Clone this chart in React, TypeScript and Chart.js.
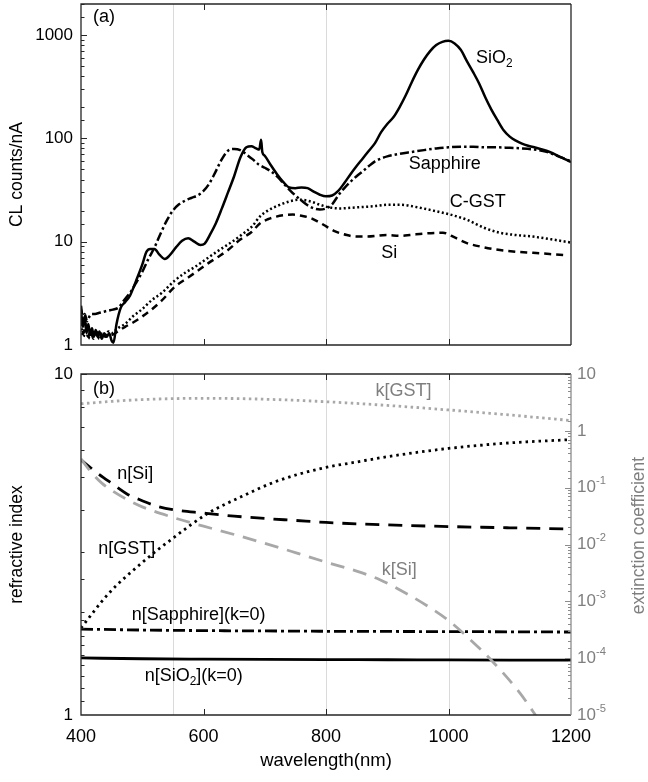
import { useEffect, useRef } from "react";
import { Chart, registerables } from "chart.js";

Chart.register(...registerables);

const FONT = "'Liberation Sans', Arial, Helvetica, sans-serif";
const GREY_TEXT = "#7f7f7f";
const GREY_LINE = "#a8a8a8";

// ---------- (a) CL spectra ----------
const wlSiO2 = [400,403,406,409,412,415,418,421,424,427,430,434,438,442,446,450,453,458,465,472,480,490,500,507,513,520,528,537,545,555,565,575,585,595,602,610,620,630,640,650,660,670,678,686,691,694,696,700,710,720,730,740,750,760,770,780,790,800,810,820,830,840,850,860,870,880,890,900,910,920,930,940,950,960,970,980,990,1000,1010,1020,1030,1040,1050,1060,1070,1080,1090,1100,1110,1120,1130,1140,1150,1160,1170,1180,1190,1200];
const clSiO2 = [2.2,1.5,1.9,1.3,1.6,1.25,1.45,1.2,1.4,1.2,1.35,1.15,1.3,1.2,1.3,1.1,1.05,1.6,2.3,2.6,3.0,4.2,6.0,8.0,8.5,8.5,7.5,6.8,7.4,8.8,10.2,10.8,10.0,9.3,9.6,11.5,15,21,30,43,65,82,84,80,78,97,74,68,55,45,38,33.5,33,33.5,33,30.5,28.5,27.5,28,31,37,45,54,64,76,90,115,138,160,200,260,350,460,580,700,800,860,880,830,720,560,440,340,250,190,150,120,104,95,89,85,82,79,76,72,67,63,59];

const wlSapphire = [400,403,406,410,414,418,423,430,437,444,452,461,470,480,490,500,510,520,530,540,550,560,570,580,590,600,610,620,630,640,650,660,670,680,690,700,710,720,730,740,750,760,770,780,790,800,810,820,830,840,850,860,870,880,890,900,920,940,960,980,1000,1020,1040,1060,1080,1100,1120,1140,1160,1180,1200];
const clSapphire = [2.4,1.8,2.0,1.7,1.9,2.0,2.0,2.05,2.1,2.15,2.2,2.3,2.7,3.2,4.0,5.1,6.8,8.8,12,16,20,23,25,26.5,28,31,37,48,63,76,79,77,70,63,56,52,48,43,37,32,28,25,22.5,21,20.5,21,23,28,33,38,43,48,54,60,64,67,71,74,77,80,82,83,83,82,82,81,80,78,74,67,60];

const wlCGST = [400,404,408,412,416,420,425,430,435,440,445,450,460,472,485,499,515,532,553,570,586,600,619,635,651,665,679,692,705,725,740,757,775,790,805,823,850,877,900,921,950,975,1000,1030,1060,1084,1110,1138,1170,1200];
const clCGST = [1.6,1.2,1.5,1.15,1.4,1.2,1.35,1.2,1.3,1.25,1.35,1.3,1.45,1.6,1.9,2.2,2.7,3.2,4.2,5.0,5.7,6.5,7.8,9.0,10.4,12,14,17.5,20,22.8,24.5,25.5,24.5,22.8,21.5,21,21.5,22,22.8,22.8,21.5,20,18.5,16.3,13.5,12.2,11.6,11.2,10.5,9.8];

const wlSi = [400,404,408,412,416,420,425,430,435,440,445,450,460,472,485,499,515,532,553,575,590,608,625,640,660,679,692,705,719,730,746,760,774,788,801,815,834,850,866,899,921,937,960,991,1010,1030,1055,1084,1110,1138,1165,1190];
const clSi = [1.8,1.3,1.6,1.2,1.4,1.15,1.3,1.15,1.25,1.2,1.3,1.25,1.35,1.5,1.65,1.87,2.2,2.7,3.65,4.5,5.2,6.2,7.2,8.3,10.5,12.5,15,16.5,17.5,18,18.3,17.8,17,15.5,14,12.6,11.6,11.2,11.2,11.6,11.4,11.6,12,12.2,11,9.7,8.9,8.3,8.0,7.8,7.6,7.4];

// ---------- (b) optical constants ----------
const wlNSiO2 = [400,500,600,700,800,900,1000,1100,1200];
const nSiO2 = [1.470,1.462,1.458,1.455,1.453,1.452,1.450,1.449,1.448];
const nSapphire = [1.786,1.775,1.768,1.764,1.760,1.758,1.756,1.754,1.751];

const wlNSi = [400,425,450,475,500,525,550,600,650,700,750,800,900,1000,1100,1200];
const nSi = [5.6,5.15,4.78,4.45,4.25,4.09,4.0,3.91,3.83,3.77,3.72,3.67,3.61,3.57,3.54,3.51];

const wlKSi = [400,420,434,450,475,500,550,600,650,700,750,800,850,888,926,967,1000,1032,1073,1117,1140,1160];
const kSi = [0.32,0.17,0.12,0.09,0.062,0.046,0.03,0.021,0.015,0.0105,0.0072,0.0049,0.0034,0.0024,0.00148,0.00081,0.00046,0.00023,0.000085,0.000024,0.0000107,0.000005];

const wlNGST = [400,445,499,553,608,662,717,793,850,900,1000,1100,1200];
const nGST = [1.8,2.27,2.79,3.33,3.91,4.37,4.83,5.29,5.52,5.72,6.05,6.28,6.42];

const wlKGST = [400,450,500,600,700,800,900,1000,1100,1200];
const kGST = [3.0,3.3,3.55,3.74,3.6,3.25,2.8,2.33,1.9,1.52];

// ---------- axes ----------
const markerWavelengths = [550, 800, 1000];
const xRange = [400, 1200];
const xStep = 200;
const clRange = [1, 2000];
const nRange = [1, 10];
const kRange = [1e-5, 10];

type Part = { t: string; sub?: boolean; sup?: boolean };
type Note = { parts: Part[]; x: number; y: number; color: string; axis: string };

const topNotes: Note[] = [
  { parts: [{ t: "SiO" }, { t: "2", sub: true }], x: 1045, y: 600, color: "#000", axis: "y" },
  { parts: [{ t: "Sapphire" }], x: 935, y: 56, color: "#000", axis: "y" },
  { parts: [{ t: "C-GST" }], x: 1002, y: 24.4, color: "#000", axis: "y" },
  { parts: [{ t: "Si" }], x: 890, y: 7.8, color: "#000", axis: "y" },
];
const bottomNotes: Note[] = [
  { parts: [{ t: "k[GST]" }], x: 881, y: 8.9, color: GREY_TEXT, axis: "y" },
  { parts: [{ t: "n[Si]" }], x: 459, y: 5.09, color: "#000", axis: "y" },
  { parts: [{ t: "n[GST]" }], x: 428, y: 3.07, color: "#000", axis: "y" },
  { parts: [{ t: "k[Si]" }], x: 891, y: 2.66, color: GREY_TEXT, axis: "y" },
  { parts: [{ t: "n[Sapphire](k=0)" }], x: 483, y: 1.965, color: "#000", axis: "y" },
  { parts: [{ t: "n[SiO" }, { t: "2", sub: true }, { t: "](k=0)" }], x: 504, y: 1.301, color: "#000", axis: "y" },
];

const pts = (xs: number[], ys: number[]) => xs.map((x, i) => ({ x, y: ys[i] }));
const isPow10 = (v: number) => {
  const l = Math.log10(v);
  return Math.abs(l - Math.round(l)) < 1e-6;
};

function drawRich(ctx: CanvasRenderingContext2D, parts: Part[], x: number, y: number, size: number, align = "left") {
  let w = 0;
  for (const p of parts) {
    ctx.font = `${p.sub || p.sup ? size * 0.66 : size}px ${FONT}`;
    w += ctx.measureText(p.t).width;
  }
  let cx = align === "center" ? x - w / 2 : x;
  ctx.textAlign = "left";
  ctx.textBaseline = "middle";
  for (const p of parts) {
    const s = p.sub || p.sup ? size * 0.66 : size;
    ctx.font = `${s}px ${FONT}`;
    const dy = p.sub ? size * 0.3 : p.sup ? -size * 0.38 : 0;
    ctx.fillText(p.t, cx, y + dy);
    cx += ctx.measureText(p.t).width;
  }
}

function framePlugin(opts: {
  panel: string;
  panelDy: number;
  notes: Note[];
  leftTitle: string;
  rightTitle?: string;
  xTitle?: string;
}) {
  return {
    id: "frame",
    beforeDatasetsDraw(chart: any) {
      const { ctx, chartArea: a, scales } = chart;
      ctx.save();
      ctx.strokeStyle = "#dadada";
      ctx.lineWidth = 1;
      for (const w of markerWavelengths) {
        const px = Math.round(scales.x.getPixelForValue(w)) + 0.5;
        ctx.beginPath();
        ctx.moveTo(px, a.top);
        ctx.lineTo(px, a.bottom);
        ctx.stroke();
      }
      ctx.restore();
    },
    afterDatasetsDraw(chart: any) {
      const { ctx, chartArea: a, scales } = chart;
      ctx.save();
      ctx.lineWidth = 1;
      ctx.strokeStyle = "#262626";
      const xs = scales.x;
      for (const t of xs.ticks) {
        const px = Math.round(xs.getPixelForValue(t.value)) + 0.5;
        if (px <= a.left + 1 || px >= a.right - 1) continue;
        ctx.beginPath();
        ctx.moveTo(px, a.bottom);
        ctx.lineTo(px, a.bottom - 6);
        ctx.moveTo(px, a.top);
        ctx.lineTo(px, a.top + 6);
        ctx.stroke();
      }
      const ys = scales.y;
      for (const t of ys.ticks) {
        const py = Math.round(ys.getPixelForValue(t.value)) + 0.5;
        if (py < a.top || py > a.bottom) continue;
        const len = isPow10(t.value) ? 6 : 3.5;
        ctx.beginPath();
        ctx.moveTo(a.left, py);
        ctx.lineTo(a.left + len, py);
        ctx.stroke();
      }
      const y2 = scales.y2;
      if (y2) {
        ctx.strokeStyle = "#8c8c8c";
        for (const t of y2.ticks) {
          const py = Math.round(y2.getPixelForValue(t.value)) + 0.5;
          if (py < a.top || py > a.bottom) continue;
          const len = isPow10(t.value) ? 6 : 3;
          ctx.beginPath();
          ctx.moveTo(a.right, py);
          ctx.lineTo(a.right - len, py);
          ctx.stroke();
        }
        ctx.fillStyle = GREY_TEXT;
        for (const t of y2.ticks) {
          if (!isPow10(t.value)) continue;
          const e = Math.round(Math.log10(t.value));
          const py = y2.getPixelForValue(t.value);
          const parts: Part[] = e === 1 ? [{ t: "10" }] : e === 0 ? [{ t: "1" }] : [{ t: "10" }, { t: String(e), sup: true }];
          drawRich(ctx, parts, a.right + 6, py, 17);
        }
      }
      ctx.lineWidth = 1.3;
      ctx.strokeStyle = "#262626";
      ctx.beginPath();
      ctx.moveTo(a.right, a.top);
      ctx.lineTo(a.left, a.top);
      ctx.lineTo(a.left, a.bottom);
      ctx.lineTo(a.right, a.bottom);
      ctx.stroke();
      ctx.strokeStyle = y2 ? "#8c8c8c" : "#262626";
      ctx.beginPath();
      ctx.moveTo(a.right, a.top);
      ctx.lineTo(a.right, a.bottom);
      ctx.stroke();
      ctx.fillStyle = "#000";
      drawRich(ctx, [{ t: opts.panel }], a.left + 12, a.top + opts.panelDy, 18);
      for (const n of opts.notes) {
        ctx.fillStyle = n.color;
        drawRich(ctx, n.parts, xs.getPixelForValue(n.x), scales[n.axis].getPixelForValue(n.y), 18);
      }
      const midY = (a.top + a.bottom) / 2;
      ctx.fillStyle = "#000";
      ctx.save();
      ctx.translate(a.left - 64, midY);
      ctx.rotate(-Math.PI / 2);
      drawRich(ctx, [{ t: opts.leftTitle }], 0, 0, 17.5, "center");
      ctx.restore();
      if (opts.rightTitle) {
        ctx.save();
        ctx.fillStyle = GREY_TEXT;
        ctx.translate(a.right + 68, midY - 9);
        ctx.rotate(-Math.PI / 2);
        drawRich(ctx, [{ t: opts.rightTitle }], 0, 0, 17.5, "center");
        ctx.restore();
      }
      if (opts.xTitle) {
        ctx.fillStyle = "#000";
        drawRich(ctx, [{ t: opts.xTitle }], (a.left + a.right) / 2, a.bottom + 46, 18.5, "center");
      }
      ctx.restore();
    },
  };
}

const line = (data: any[], dash: number[], color = "#000", width = 2.5, axis = "y") => ({
  data,
  borderColor: color,
  borderWidth: width,
  borderDash: dash,
  pointRadius: 0,
  fill: false,
  cubicInterpolationMode: "monotone" as const,
  yAxisID: axis,
});

const logTickCallback = (v: any) => (isPow10(Number(v)) ? String(Number(v)) : "");
const plainTickCallback = (v: any) => String(Number(v));

function topConfig(): any {
  return {
    type: "line",
    data: {
      datasets: [
        line(pts(wlSiO2, clSiO2), []),
        line(pts(wlSapphire, clSapphire), [9, 3, 2.5, 3]),
        line(pts(wlCGST, clCGST), [2, 2.5]),
        line(pts(wlSi, clSi), [7, 5]),
      ],
    },
    options: {
      animation: false,
      responsive: false,
      layout: { padding: { top: 4, right: 77, left: 0, bottom: 0 } },
      plugins: { legend: { display: false }, tooltip: { enabled: false } },
      scales: {
        x: {
          type: "linear",
          min: xRange[0],
          max: xRange[1],
          ticks: { display: false, stepSize: xStep },
          grid: { display: false, drawTicks: false },
          border: { display: false },
          afterFit: (s: any) => {
            s.height = 15;
            s.paddingLeft = 0;
            s.paddingRight = 0;
          },
        },
        y: {
          type: "logarithmic",
          min: clRange[0],
          max: clRange[1],
          ticks: { callback: logTickCallback, autoSkip: false, padding: 8, color: "#000", font: { size: 17, family: FONT } },
          grid: { display: false, drawTicks: false },
          border: { display: false },
          afterFit: (s: any) => {
            s.width = 81;
            s.paddingTop = 0;
            s.paddingBottom = 0;
          },
        },
      },
    },
    plugins: [framePlugin({ panel: "(a)", panelDy: 13, notes: topNotes, leftTitle: "CL counts/nA" })],
  };
}

function bottomConfig(): any {
  return {
    type: "line",
    data: {
      datasets: [
        line(pts(wlKGST, kGST), [2.5, 3.5], GREY_LINE, 2.8, "y2"),
        line(pts(wlKSi, kSi), [14, 9], GREY_LINE, 2.8, "y2"),
        line(pts(wlNSi, nSi), [14, 9], "#000", 2.8),
        line(pts(wlNGST, nGST), [2.5, 4], "#000", 2.8),
        line(pts(wlNSiO2, nSapphire), [12, 4, 3, 4], "#000", 2.8),
        line(pts(wlNSiO2, nSiO2), [], "#000", 2.8),
      ],
    },
    options: {
      animation: false,
      responsive: false,
      layout: { padding: { top: 14, right: 0, left: 0, bottom: 0 } },
      plugins: { legend: { display: false }, tooltip: { enabled: false } },
      scales: {
        x: {
          type: "linear",
          min: xRange[0],
          max: xRange[1],
          ticks: { stepSize: xStep, padding: 11, color: "#000", font: { size: 18, family: FONT }, maxRotation: 0, callback: plainTickCallback },
          grid: { display: false, drawTicks: false },
          border: { display: false },
          afterFit: (s: any) => {
            s.height = 67;
            s.paddingLeft = 0;
            s.paddingRight = 0;
          },
        },
        y: {
          type: "logarithmic",
          position: "left",
          min: nRange[0],
          max: nRange[1],
          ticks: { callback: logTickCallback, autoSkip: false, padding: 8, color: "#000", font: { size: 17, family: FONT } },
          grid: { display: false, drawTicks: false },
          border: { display: false },
          afterFit: (s: any) => {
            s.width = 81;
            s.paddingTop = 0;
            s.paddingBottom = 0;
          },
        },
        y2: {
          type: "logarithmic",
          position: "right",
          min: kRange[0],
          max: kRange[1],
          ticks: { display: false, autoSkip: false },
          grid: { display: false, drawTicks: false },
          border: { display: false },
          afterFit: (s: any) => {
            s.width = 77;
            s.paddingTop = 0;
            s.paddingBottom = 0;
          },
        },
      },
    },
    plugins: [
      framePlugin({
        panel: "(b)",
        panelDy: 15,
        notes: bottomNotes,
        leftTitle: "refractive index",
        rightTitle: "extinction coefficient",
        xTitle: "wavelength(nm)",
      }),
    ],
  };
}

export default function App() {
  const topRef = useRef<HTMLCanvasElement>(null);
  const botRef = useRef<HTMLCanvasElement>(null);
  useEffect(() => {
    const c1 = new Chart(topRef.current as HTMLCanvasElement, topConfig());
    const c2 = new Chart(botRef.current as HTMLCanvasElement, bottomConfig());
    return () => {
      c1.destroy();
      c2.destroy();
    };
  }, []);
  return (
    <div style={{ position: "absolute", left: 0, top: 0, width: 648, height: 782, background: "#fff" }}>
      <canvas ref={topRef} width={648} height={360} style={{ position: "absolute", left: 0, top: 0, width: 648, height: 360 }} />
      <canvas ref={botRef} width={648} height={422} style={{ position: "absolute", left: 0, top: 360, width: 648, height: 422 }} />
    </div>
  );
}
